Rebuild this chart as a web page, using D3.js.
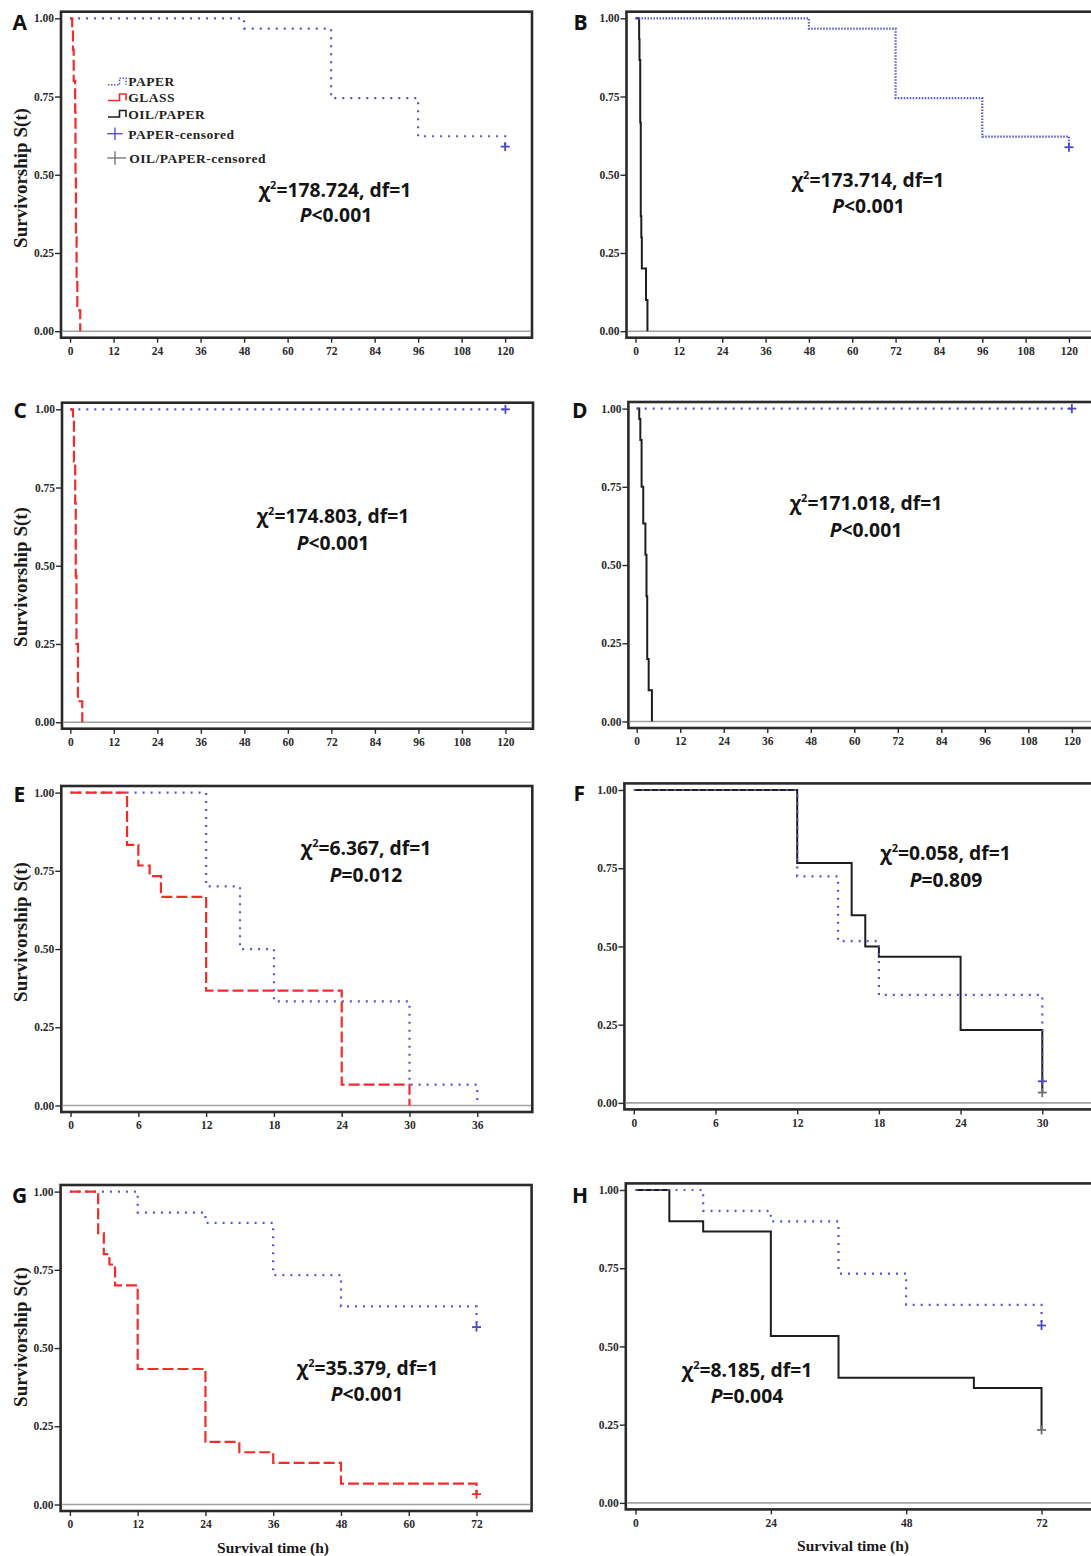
<!DOCTYPE html>
<html>
<head>
<meta charset="utf-8">
<script src="https://cdn.jsdelivr.net/npm/d3@7"></script>
<style>
  body { margin: 0; background: #fff; }
  svg { display: block; }
</style>
</head>
<body>
<div id="chart"></div>
<script>
// Kaplan-Meier curves, points are [time (h), S(t)]
const paperA = [[0, 1], [48, 0.967], [72, 0.745], [96, 0.623], [120, 0.59]];
const glassA = [[0, 1], [0.6, 0.967], [0.8, 0.9], [1.0, 0.8], [1.4, 0.7], [1.5, 0.5], [1.6, 0.3], [1.8, 0.167], [2.0, 0.067], [2.8, 0]];
const paperB = [[0, 1], [48, 0.967], [72, 0.745], [96, 0.622], [120, 0.588]];
const oilB = [[0, 1], [1.0, 0.933], [1.1, 0.867], [1.3, 0.667], [1.45, 0.367], [1.6, 0.3], [1.75, 0.2], [2.9, 0.1], [3.3, 0]];
const paperC = [[0, 1], [120, 1]];
const glassC = [[0, 1], [0.75, 0.967], [1.0, 0.833], [1.35, 0.7], [1.5, 0.467], [1.7, 0.25], [2.1, 0.067], [3.3, 0]];
const paperD = [[0, 1], [120, 1]];
const oilD = [[0, 1], [0.7, 0.967], [1.0, 0.9], [1.35, 0.75], [1.8, 0.633], [2.4, 0.533], [2.7, 0.4], [2.9, 0.2], [3.3, 0.1], [4.2, 0]];
const paperE = [[0, 1], [12, 0.7], [15, 0.5], [18, 0.333], [30, 0.067], [36, 0]];
const glassE = [[0, 1], [5, 0.833], [6, 0.767], [7, 0.733], [8, 0.667], [12, 0.367], [24, 0.067], [30, 0]];
const oilF = [[0, 1], [12, 0.767], [16, 0.6], [17, 0.5], [18, 0.467], [24, 0.233], [30, 0.033]];
const paperF = [[0, 1], [12, 0.724], [15, 0.517], [18, 0.345], [30, 0.069]];
const paperG = [[0, 1], [12, 0.933], [24, 0.9], [36, 0.733], [48, 0.633], [72, 0.567]];
const glassG = [[0, 1], [5, 0.867], [6, 0.8], [7, 0.767], [8, 0.7], [12, 0.433], [24, 0.2], [30, 0.167], [36, 0.133], [48, 0.067], [72, 0.033]];
const oilH = [[0, 1], [6, 0.9], [12, 0.867], [24, 0.533], [36, 0.4], [60, 0.367], [72, 0.233]];
const paperH = [[0, 1], [12, 0.933], [24, 0.9], [36, 0.733], [48, 0.633], [72, 0.567]];

// censored observations
const censorPaperA = [[120, 0.59]];
const censorPaperB = [[120, 0.588]];
const censorPaperC = [[120, 1]];
const censorPaperD = [[120, 1]];
const censorOilF = [[30, 0.033]];
const censorPaperF = [[30, 0.069]];
const censorPaperG = [[72, 0.567]];
const censorGlassG = [[72, 0.033]];
const censorOilH = [[72, 0.233]];
const censorPaperH = [[72, 0.567]];

// log-rank results
const chiValues = ["178.724", "173.714", "174.803", "171.018", "6.367", "0.058", "35.379", "8.185"];
const pValues = ["<0.001", "<0.001", "<0.001", "<0.001", "=0.012", "=0.809", "<0.001", "=0.004"];

// tick labels
const yTicks = [0, 0.25, 0.5, 0.75, 1];
const ticks120 = [0, 12, 24, 36, 48, 60, 72, 84, 96, 108, 120];
const ticks36 = [0, 6, 12, 18, 24, 30, 36];
const ticks30 = [0, 6, 12, 18, 24, 30];
const ticks72 = [0, 12, 24, 36, 48, 60, 72];
const ticks72h = [0, 24, 48, 72];

const legendLabels = ["PAPER", "GLASS", "OIL/PAPER", "PAPER-censored", "OIL/PAPER-censored"];

const W = 1091, H = 1556;
const frameW = 471, frameH = 326;

const styles = {
  paper: { stroke: "#5656d6", width: 2.2, dash: "2,6" },
  glass: { stroke: "#f22b2b", width: 2.2, dash: "11,4" },
  oil:   { stroke: "#1e1e1e", width: 2, dash: null }
};
const censorColor = { paper: "#4848cc", glass: "#f22b2b", oil: "#707070" };

const panels = [
  { id: "A", left: 61, top: 11.7, xDom: [-2.5, 127.4], ticks: ticks120,
    series: [[paperA, "paper"], [glassA, "glass"]], censors: [[censorPaperA, "paper"]],
    stat: [335, 196.5, 336, 221.7], letter: [12.5, 30], yTitle: 178, legend: true },
  { id: "B", left: 626.5, top: 11.7, xDom: [-2.5, 127.9], ticks: ticks120, paperDash: "1.5,1.5",
    series: [[oilB, "oil"], [paperB, "paper"]], censors: [[censorPaperB, "paper"]],
    stat: [868, 186.7, 868.5, 213], letter: [573.5, 30] },
  { id: "C", left: 62, top: 402.7, xDom: [-2.29, 127.6], ticks: ticks120,
    series: [[paperC, "paper"], [glassC, "glass"]], censors: [[censorPaperC, "paper"]],
    stat: [333, 523, 333, 550], letter: [13.5, 417.7], yTitle: 577 },
  { id: "D", left: 628.4, top: 402, xDom: [-2.29, 127.6], ticks: ticks120,
    series: [[oilD, "oil"], [paperD, "paper"]], censors: [[censorPaperD, "paper"]],
    stat: [866, 510, 866, 536.7], letter: [572, 417.7] },
  { id: "E", left: 61.3, top: 786, xDom: [-0.82, 40.87], ticks: ticks36,
    series: [[paperE, "paper"], [glassE, "glass"]], censors: [],
    stat: [366, 855, 366, 881.7], letter: [13.5, 801.7], yTitle: 932 },
  { id: "F", left: 624.4, top: 783.4, xDom: [-0.69, 33.9], ticks: ticks30,
    series: [[oilF, "oil"], [paperF, "paper"]], censors: [[censorOilF, "oil"], [censorPaperF, "paper"]],
    stat: [945.5, 860, 946, 886.7], letter: [573.5, 800.7] },
  { id: "G", left: 60.6, top: 1185, xDom: [-1.645, 81.75], ticks: ticks72,
    series: [[paperG, "paper"], [glassG, "glass"]], censors: [[censorPaperG, "paper"], [censorGlassG, "glass"]],
    stat: [367.5, 1375, 367, 1400.7], letter: [12, 1202.7], yTitle: 1337, xTitle: 273 },
  { id: "H", left: 625.8, top: 1183.4, xDom: [-1.72, 81.8], ticks: ticks72h,
    series: [[oilH, "oil"], [paperH, "paper"]], censors: [[censorOilH, "oil"], [censorPaperH, "paper"]],
    stat: [747, 1376.7, 747, 1403.3], letter: [572, 1203.3], xTitle: 853 }
];

const svg = d3.select("#chart").append("svg")
  .attr("width", W)
  .attr("height", H)
  .style("background", "#fff");

const serif = "'Liberation Serif', 'Times New Roman', serif";
const sans = "'Open Sans', 'Liberation Sans', sans-serif";

panels.forEach((p, i) => {
  const x = d3.scaleLinear().domain(p.xDom).range([p.left, p.left + frameW]);
  const y = d3.scaleLinear().domain([-0.0208, 1.0211]).range([p.top + frameH, p.top]);
  const g = svg.append("g").attr("class", "panel-" + p.id);

  // frame
  g.append("rect")
    .attr("x", p.left).attr("y", p.top)
    .attr("width", frameW).attr("height", frameH)
    .attr("fill", "#fff")
    .attr("stroke", "#2a2a2a")
    .attr("stroke-width", 2.6);

  // reference line at S(t)=0
  g.append("line")
    .attr("x1", p.left + 1.3).attr("x2", p.left + frameW - 1.3)
    .attr("y1", y(0)).attr("y2", y(0))
    .attr("stroke", "#a0a0a0")
    .attr("stroke-width", 1.6);

  // axes
  const yAxis = g.append("g")
    .attr("transform", `translate(${p.left},0)`)
    .call(d3.axisLeft(y).tickValues(yTicks).tickFormat(d3.format(".2f")).tickSize(6).tickPadding(1));
  const xAxis = g.append("g")
    .attr("transform", `translate(0,${p.top + frameH})`)
    .call(d3.axisBottom(x).tickValues(p.ticks).tickFormat(d3.format("d")).tickSize(5).tickPadding(4));
  [yAxis, xAxis].forEach(a => {
    a.attr("font-family", null).attr("font-size", null);
    a.select(".domain").remove();
    a.selectAll(".tick line").attr("stroke", "#2a2a2a").attr("stroke-width", 1.4);
    a.selectAll(".tick text")
      .attr("fill", "#2a2a2a")
      .style("font-family", serif)
      .style("font-weight", "bold")
      .style("font-size", "11.5px");
  });

  // curves
  const line = d3.line()
    .x(d => x(d[0]))
    .y(d => y(d[1]))
    .curve(d3.curveStepAfter);

  p.series.forEach(([data, kind]) => {
    const s = styles[kind];
    const dash = kind === "paper" && p.paperDash ? p.paperDash : s.dash;
    g.append("path")
      .datum(data)
      .attr("d", line)
      .attr("fill", "none")
      .attr("stroke", s.stroke)
      .attr("stroke-width", s.width)
      .attr("stroke-dasharray", dash);
  });

  // censor marks
  p.censors.forEach(([data, kind]) => {
    const c = g.selectAll(null).data(data).enter().append("g")
      .attr("transform", d => `translate(${x(d[0])},${y(d[1])})`)
      .attr("stroke", censorColor[kind])
      .attr("stroke-width", 1.8);
    c.append("line").attr("x1", -4.5).attr("x2", 4.5);
    c.append("line").attr("y1", -4.5).attr("y2", 4.5);
  });

  // log-rank annotation
  const t1 = g.append("text")
    .attr("x", p.stat[0]).attr("y", p.stat[1])
    .attr("text-anchor", "middle")
    .style("font-family", sans)
    .style("font-weight", "bold")
    .style("font-size", "19.3px")
    .attr("fill", "#141414");
  t1.append("tspan").text("χ");
  t1.append("tspan").text("2").style("font-size", "11px").attr("dy", -8);
  t1.append("tspan").text(`=${chiValues[i]}, df=1`).attr("dy", 8);

  const t2 = g.append("text")
    .attr("x", p.stat[2]).attr("y", p.stat[3])
    .attr("text-anchor", "middle")
    .style("font-family", sans)
    .style("font-weight", "bold")
    .style("font-size", "19.3px")
    .attr("fill", "#141414");
  t2.append("tspan").text("P").style("font-style", "italic");
  t2.append("tspan").text(pValues[i]);

  // panel letter
  g.append("text")
    .attr("x", p.letter[0]).attr("y", p.letter[1])
    .text(p.id)
    .style("font-family", sans)
    .style("font-weight", "bold")
    .style("font-size", "21px")
    .attr("fill", "#111");

  if (p.yTitle) {
    g.append("text")
      .attr("transform", `translate(27,${p.yTitle}) rotate(-90)`)
      .attr("text-anchor", "middle")
      .text("Survivorship S(t)")
      .style("font-family", serif)
      .style("font-weight", "bold")
      .style("font-size", "19px")
      .attr("fill", "#1a1a1a");
  }

  if (p.xTitle) {
    g.append("text")
      .attr("x", p.xTitle).attr("y", p.top + frameH + 42)
      .attr("text-anchor", "middle")
      .text("Survival time (h)")
      .style("font-family", serif)
      .style("font-weight", "bold")
      .style("font-size", "15.5px")
      .attr("fill", "#1a1a1a");
  }

  if (p.legend) drawLegend(g);
});

function drawLegend(g) {
  const baselines = [86.3, 102, 118.5, 139.3, 163.3];
  const kinds = ["paper", "glass", "oil"];
  const leg = g.append("g").attr("class", "legend");

  leg.selectAll("text")
    .data(legendLabels)
    .enter().append("text")
    .attr("x", (d, i) => i < 4 ? 128.3 : 129.3)
    .attr("y", (d, i) => baselines[i])
    .text(d => d)
    .style("font-family", serif)
    .style("font-weight", "bold")
    .style("font-size", "13.5px")
    .style("letter-spacing", "0.5px")
    .attr("fill", "#222");

  // step-shaped line keys
  leg.selectAll("path")
    .data(kinds)
    .enter().append("path")
    .attr("d", (k, i) => {
      const lo = baselines[i] - 1.5, hi = baselines[i] - 8;
      return `M108,${lo}H119.5V${hi}H126V${lo}`;
    })
    .attr("fill", "none")
    .attr("stroke", k => styles[k].stroke)
    .attr("stroke-width", 1.6)
    .attr("stroke-dasharray", k => k === "paper" ? "1.5,1.5" : null);

  // censor keys
  const crosses = [["paper", 133.7, 107.3, 122.7, 6.2], ["oil", 158, 107.3, 126, 6.7]];
  crosses.forEach(([k, cy, x1, x2, half]) => {
    leg.append("line").attr("x1", x1).attr("x2", x2).attr("y1", cy).attr("y2", cy)
      .attr("stroke", censorColor[k]).attr("stroke-width", 1.3);
    leg.append("line").attr("x1", 115).attr("x2", 115).attr("y1", cy - half).attr("y2", cy + half)
      .attr("stroke", censorColor[k]).attr("stroke-width", 1.3);
  });
}
</script>
</body>
</html>
